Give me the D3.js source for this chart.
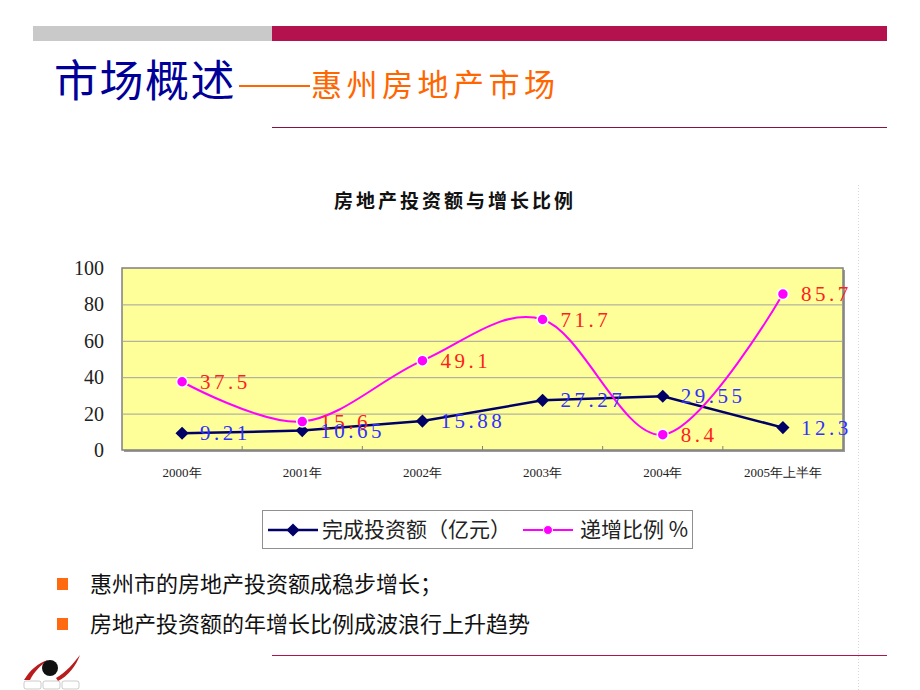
<!DOCTYPE html>
<html>
<head>
<meta charset="utf-8">
<script src="https://cdn.jsdelivr.net/npm/d3@7"></script>
<style>
  html, body { margin: 0; padding: 0; background: #fff; }
  svg { display: block; }
</style>
</head>
<body>
<div id="content"></div>
<script>
// chart data
const categories = ['2000年', '2001年', '2002年', '2003年', '2004年', '2005年上半年'];
const investment = [9.21, 10.65, 15.88, 27.27, 29.55, 12.3];
const growthRate = [37.5, 15.6, 49.1, 71.7, 8.4, 85.7];
const yTicks = [0, 20, 40, 60, 80, 100];
const seriesNames = ['完成投资额（亿元）', '递增比例 %'];
const bullets = ['惠州市的房地产投资额成稳步增长；', '房地产投资额的年增长比例成波浪行上升趋势'];

const W = 920, H = 690;
const cjk = '"Noto Sans CJK SC", "Noto Sans", sans-serif';
const serif = '"Liberation Serif", "DejaVu Serif", serif';

const svg = d3.select('#content').append('svg')
  .attr('width', W).attr('height', H)
  .attr('viewBox', [0, 0, W, H]);

// --- slide decoration ---
svg.append('rect').attr('x', 33).attr('y', 26).attr('width', 239).attr('height', 15).attr('fill', '#c9c9c9');
svg.append('rect').attr('x', 272).attr('y', 26).attr('width', 615).attr('height', 15).attr('fill', '#b3124f');
svg.append('line').attr('x1', 272).attr('x2', 887).attr('y1', 127.5).attr('y2', 127.5).attr('stroke', '#8a1040').attr('stroke-width', 1);
svg.append('line').attr('x1', 272).attr('x2', 887).attr('y1', 655.5).attr('y2', 655.5).attr('stroke', '#b3124f').attr('stroke-width', 1);
svg.append('line').attr('x1', 858.5).attr('x2', 858.5).attr('y1', 185).attr('y2', 690)
  .attr('stroke', '#d8d8d8').attr('stroke-dasharray', '1,2');

svg.append('text').attr('x', 54).attr('y', 97).style('font-family', cjk)
  .style('font-size', '44px').attr('letter-spacing', 1.5).attr('fill', '#000099').text('市场概述');
svg.append('line').attr('x1', 239).attr('x2', 310).attr('y1', 86).attr('y2', 86)
  .attr('stroke', '#ff6600').attr('stroke-width', 2);
svg.append('text').attr('x', 311).attr('y', 96).style('font-family', cjk)
  .style('font-size', '31px').attr('letter-spacing', 4.5).attr('fill', '#ff6600').text('惠州房地产市场');

// --- chart ---
const plot = { left: 122, right: 843, top: 268, bottom: 450 };
const x = d3.scaleBand().domain(categories).range([plot.left, plot.right]);
const y = d3.scaleLinear().domain([0, 100]).range([plot.bottom, plot.top]);
const cx = d => x(d) + x.bandwidth() / 2;

svg.append('text').attr('x', 455).attr('y', 208).attr('text-anchor', 'middle')
  .style('font-family', cjk).style('font-size', '19px').style('font-weight', 'bold')
  .attr('letter-spacing', 3).attr('fill', '#111').text('房地产投资额与增长比例');

// shadow + plot area
svg.append('rect').attr('x', plot.left + 2).attr('y', plot.top + 2)
  .attr('width', plot.right - plot.left).attr('height', plot.bottom - plot.top).attr('fill', '#9a9a9a');
svg.append('rect').attr('x', plot.left).attr('y', plot.top)
  .attr('width', plot.right - plot.left).attr('height', plot.bottom - plot.top)
  .attr('fill', '#ffff99').attr('stroke', '#808080').attr('stroke-width', 1.5);

// gridlines
svg.append('g').attr('transform', `translate(${plot.left},0)`)
  .call(d3.axisLeft(y).tickValues(yTicks.slice(1, -1)).tickSize(-(plot.right - plot.left)).tickFormat(''))
  .call(g => g.select('.domain').remove())
  .call(g => g.selectAll('line').attr('stroke', '#a0a0a0').attr('stroke-width', 1));

// y labels
svg.append('g').attr('transform', `translate(${plot.left},0)`)
  .call(d3.axisLeft(y).tickValues(yTicks).tickSize(0).tickPadding(18))
  .call(g => g.select('.domain').remove())
  .call(g => g.selectAll('text').style('font-family', serif).style('font-size', '20px').attr('fill', '#222'));

// x ticks at band boundaries
svg.append('g').selectAll('line').data(categories.slice(1)).join('line')
  .attr('x1', d => x(d)).attr('x2', d => x(d))
  .attr('y1', plot.bottom).attr('y2', plot.bottom - 4)
  .attr('stroke', '#808080');

// x labels
svg.append('g').selectAll('text').data(categories).join('text')
  .attr('x', d => cx(d)).attr('y', 477).attr('text-anchor', 'middle')
  .style('font-family', serif).style('font-size', '13px').attr('fill', '#222')
  .text(d => d);

// investment line (straight)
const invLine = d3.line().x((d, i) => cx(categories[i])).y(d => y(d));
svg.append('path').datum(investment).attr('d', invLine)
  .attr('fill', 'none').attr('stroke', '#000066').attr('stroke-width', 2.5);

// growth line (smoothed)
const grLine = d3.line().x((d, i) => cx(categories[i])).y(d => y(d)).curve(d3.curveCardinal.tension(0));
svg.append('path').datum(growthRate).attr('d', grLine)
  .attr('fill', 'none').attr('stroke', '#ff00ff').attr('stroke-width', 2);

const diamond = d3.symbol().type(d3.symbolDiamond2).size(110);

svg.append('g').selectAll('path').data(investment).join('path')
  .attr('transform', (d, i) => `translate(${cx(categories[i])},${y(d)})`)
  .attr('d', diamond).attr('fill', '#000066');

svg.append('g').selectAll('circle').data(growthRate).join('circle')
  .attr('cx', (d, i) => cx(categories[i])).attr('cy', d => y(d)).attr('r', 5.5)
  .attr('fill', '#ff00ff').attr('stroke', '#fff').attr('stroke-width', 1.5);

// data labels
svg.append('g').selectAll('text').data(growthRate).join('text')
  .attr('x', (d, i) => cx(categories[i]) + 18).attr('y', d => y(d) + 7)
  .style('font-family', serif).style('font-size', '21px').attr('letter-spacing', 3.5)
  .attr('fill', '#ff2020').text(d => d);

svg.append('g').selectAll('text').data(investment).join('text')
  .attr('x', (d, i) => cx(categories[i]) + 18).attr('y', d => y(d) + 7)
  .style('font-family', serif).style('font-size', '21px').attr('letter-spacing', 3.5)
  .attr('fill', '#3030ff').text(d => d);

// legend
const lg = svg.append('g');
lg.append('rect').attr('x', 262.5).attr('y', 510.5).attr('width', 430).attr('height', 38)
  .attr('fill', '#fff').attr('stroke', '#909090');
lg.append('line').attr('x1', 268).attr('x2', 318).attr('y1', 530).attr('y2', 530).attr('stroke', '#000066').attr('stroke-width', 2.5);
lg.append('path').attr('transform', 'translate(293,530)').attr('d', diamond).attr('fill', '#000066');
lg.append('line').attr('x1', 523).attr('x2', 573).attr('y1', 530).attr('y2', 530).attr('stroke', '#ff00ff').attr('stroke-width', 2);
lg.append('circle').attr('cx', 548).attr('cy', 530).attr('r', 4.5).attr('fill', '#ff00ff').attr('stroke', '#fff');
lg.selectAll('text').data(seriesNames).join('text')
  .attr('x', (d, i) => i === 0 ? 322 : 580).attr('y', 537)
  .style('font-family', cjk).style('font-size', '21px').attr('fill', '#222')
  .text(d => d);

// bullets
const bl = svg.append('g');
bl.selectAll('rect').data(bullets).join('rect')
  .attr('x', 57).attr('y', (d, i) => 578 + i * 40).attr('width', 11).attr('height', 12)
  .attr('fill', '#ff6a10');
bl.selectAll('text').data(bullets).join('text')
  .attr('x', 90).attr('y', (d, i) => 592 + i * 40)
  .style('font-family', cjk).style('font-size', '22px').attr('fill', '#111')
  .text(d => d);

// logo (rough)
const logo = svg.append('g');
logo.append('path').attr('d', 'M24,680 C30,670 38,663 48,660 C40,666 34,672 30,680 Z').attr('fill', '#b81c1c');
logo.append('path').attr('d', 'M56,678 C66,672 73,664 80,655 C76,666 68,676 58,681 Z').attr('fill', '#b81c1c');
logo.append('circle').attr('cx', 50).attr('cy', 668).attr('r', 8).attr('fill', '#111');
logo.append('g').selectAll('rect').data([0, 1, 2]).join('rect')
  .attr('x', d => 24 + d * 19).attr('y', 681).attr('width', 17).attr('height', 8).attr('rx', 2)
  .attr('fill', 'none').attr('stroke', '#aaa').attr('stroke-width', 0.6);
</script>
</body>
</html>
